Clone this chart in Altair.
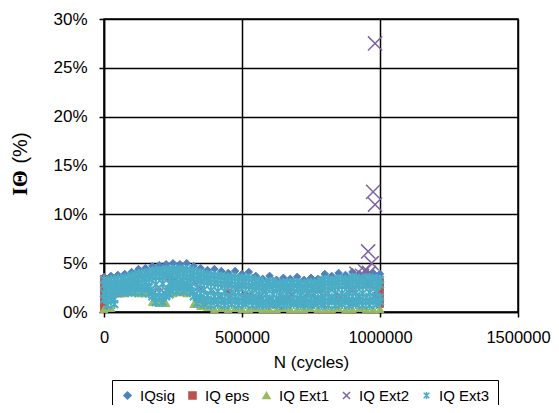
import altair as alt
import pandas as pd

SERIES = ["IQsig", "IQ eps", "IQ Ext1", "IQ Ext2", "IQ Ext3"]
COLORS = ["#4F81BD", "#C0504D", "#9BBB59", "#8064A2", "#4BACC6"]
FILLS = ["#4F81BD", "#C0504D", "#9BBB59", "transparent", "transparent"]
X_PATH = "M-1,-1L1,1M-1,1L1,-1"
AST_PATH = "M-0.8,-0.8L0.8,0.8M-0.8,0.8L0.8,-0.8M0,-1L0,1"
SHAPES = ["diamond", "square", "triangle-up", X_PATH, AST_PATH]
SIZES = [55, 45, 60, 200, 90]
STROKES = [1, 1, 1, 1.5, 2]

xs_a = [0, 25000, 50000, 75000, 100000, 125000, 150000, 175000, 200000, 225000,
        250000, 275000, 300000, 325000, 350000, 375000, 400000, 425000, 450000, 475000,
        500000, 525000, 550000, 575000, 600000, 625000, 650000, 675000, 700000, 725000,
        750000, 775000, 800000, 825000, 850000, 875000, 900000, 925000, 950000, 975000,
        1000000]
xs_b = [12500, 37500, 62500, 87500, 112500, 137500, 162500, 187500, 212500, 237500,
        262500, 287500, 312500, 337500, 362500, 387500, 412500, 437500, 462500, 487500,
        512500, 537500, 562500, 587500, 612500, 637500, 662500, 687500, 712500, 737500,
        762500, 787500, 812500, 837500, 862500, 887500, 912500, 937500, 962500, 987500]

sig_y = [3.6, 3.7, 3.8, 3.9, 4.1, 4.4, 4.5, 4.7, 4.8, 4.9,
         5.0, 4.9, 5.0, 4.7, 4.5, 4.3, 4.4, 4.2, 4.0, 4.2,
         3.9, 4.1, 3.7, 3.4, 3.7, 3.3, 3.5, 3.4, 3.6, 3.3,
         3.5, 3.4, 3.9, 3.7, 4.0, 3.8, 4.1, 3.9, 4.1, 4.0,
         3.9]

eps_x = [0, 0, 0, 0, 0, 0, 0,
         1000000, 1000000, 1000000, 1000000, 1000000,
         60000, 75000, 210000, 240000, 340000, 360000, 450000, 520000, 560000,
         620000, 660000, 720000, 780000, 850000, 905000, 960000, 990000]
eps_y = [0.4, 0.9, 1.4, 1.9, 2.4, 2.9, 3.4,
         0.8, 1.4, 2.0, 2.6, 3.1,
         1.9, 2.2, 1.0, 3.6, 1.3, 0.9, 2.0, 1.6, 1.2,
         0.8, 1.4, 0.9, 2.3, 1.5, 1.0, 2.8, 1.7]

ext1_y = [0.3, 0.4, 1.9, 1.9, 2.0, 1.9, 1.9, 1.0, 0.9, 0.9,
          1.9, 2.0, 1.9, 0.8, 0.6, 0.5,
          0.3, 0.4, 0.3, 0.4, 0.3, 0.3, 0.4, 0.3, 0.3, 0.3,
          0.4, 0.3, 0.3, 0.3, 0.4, 0.3, 0.3, 0.3, 0.4, 0.3,
          0.3, 0.4, 0.3, 0.3, 0.3]

ext2_x = [30000, 120000, 200000, 250000, 300000, 350000, 420000, 480000, 530000, 580000,
          620000, 660000, 700000, 740000, 780000, 820000, 860000, 900000, 915000, 935000,
          945000, 960000, 957000, 970000, 975000, 982000, 982000]
ext2_y = [2.3, 2.8, 2.5, 3.2, 2.4, 2.4, 1.5, 2.2, 1.3, 2.0,
          1.0, 2.3, 1.4, 2.0, 1.1, 2.4, 1.5, 2.2, 3.9, 3.7,
          4.2, 4.0, 6.2, 5.0, 12.3, 11.0, 27.5]

ext3_r1 = [3.2, 3.3, 3.4, 3.5, 3.8, 4.0, 4.1, 4.3, 4.3, 4.4,
           4.4, 4.4, 4.3, 4.1, 3.9, 3.8, 3.7, 3.6, 3.6, 3.5,
           3.5, 3.4, 3.2, 3.0, 3.1, 2.9, 3.0, 3.0, 2.9, 3.0,
           2.9, 3.2, 3.3, 3.3, 3.4, 3.4, 3.5, 3.4, 3.5, 3.4]
ext3_r2 = [2.8, 2.7, 2.8, 2.9, 3.1, 3.3, 3.4, 3.6, 3.6, 3.7,
           3.7, 3.6, 3.6, 3.4, 3.2, 3.1, 3.0, 2.9, 2.9, 2.8,
           2.8, 2.7, 2.6, 2.5, 2.6, 2.4, 2.5, 2.5, 2.4, 2.5,
           2.4, 2.5, 2.6, 2.6, 2.7, 2.7, 2.8, 2.7, 2.8, 2.7,
           2.8]
ext3_r3 = [2.0, 2.0, 2.1, 2.2, 2.5, 2.6, 2.7, 2.8, 2.9, 2.9,
           2.9, 2.8, 2.7, 2.5, 2.3, 2.2, 2.1, 2.1, 2.0, 2.0,
           1.9, 1.9, 1.8, 1.8, 1.8, 1.7, 1.8, 1.8, 1.7, 1.8,
           1.8, 1.8, 1.9, 1.9, 1.9, 2.0, 2.0, 1.9, 2.0, 2.0]
ext3_r4 = [1.3, 1.2, 2.3, 2.4, 2.4, 2.4, 2.4, 1.6, 1.5, 1.6,
           2.5, 2.5, 2.4, 1.6, 1.4, 1.2,
           1.1, 1.2, 1.1, 1.2, 1.1, 1.2, 1.1, 1.0, 1.1, 1.0,
           1.1, 1.1, 1.0, 1.1, 1.0, 1.1, 1.1, 1.2, 1.1, 1.2,
           1.1, 1.2, 1.1, 1.2, 1.1]
ext3_r5 = [0.7, 0.8, 2.0, 2.0, 2.0, 2.0, 1.9, 1.0, 1.0, 1.8,
           2.1, 2.1, 2.0, 0.9, 0.8,
           0.7, 0.8, 0.7, 0.8, 0.7, 0.8, 0.7, 0.7, 0.7, 0.8,
           0.7, 0.7, 0.8, 0.7, 0.7, 0.8, 0.7, 0.7, 0.7, 0.8,
           0.7, 0.8, 0.7, 0.7, 0.8]
ext3_r6 = [1.9, 1.8, 2.6, 2.7, 2.8, 2.9, 3.0, 2.1, 2.0, 2.2,
           3.0, 3.0, 2.9, 2.1, 1.9, 1.7,
           1.6, 1.6, 1.5, 1.6, 1.5, 1.5, 1.5, 1.4, 1.4, 1.4,
           1.4, 1.4, 1.4, 1.4, 1.4, 1.4, 1.5, 1.5, 1.5, 1.5,
           1.6, 1.6, 1.5, 1.6, 1.5]
ext3_r7 = [2.6, 2.6, 2.7, 2.8, 3.1, 3.3, 3.4, 3.6, 3.6, 3.7,
           3.7, 3.6, 3.5, 3.3, 3.1, 3.0, 2.9, 2.8, 2.8, 2.7,
           2.7, 2.6, 2.5, 2.4, 2.4, 2.3, 2.4, 2.4, 2.3, 2.4,
           2.3, 2.5, 2.6, 2.6, 2.7, 2.7, 2.8, 2.7, 2.8, 2.7]
ext3_r8 = [1.2, 1.3, 2.5, 2.5, 2.6, 2.6, 2.5, 1.5, 1.5, 2.3,
           2.6, 2.6, 2.5, 1.5, 1.3,
           1.2, 1.2, 1.1, 1.2, 1.1, 1.1, 1.1, 1.0, 1.0, 1.0,
           1.0, 1.0, 1.0, 1.0, 1.0, 1.0, 1.0, 1.1, 1.1, 1.1,
           1.1, 1.1, 1.1, 1.1, 1.1]
ext3_r9 = [3.3, 3.3, 3.4, 3.5, 3.7, 3.9, 4.0, 4.1, 4.2, 4.3,
           4.3, 4.3, 4.3, 4.1, 3.9, 3.8, 3.7, 3.6, 3.5, 3.5,
           3.4, 3.4, 3.2, 3.0, 3.1, 2.9, 3.0, 3.0, 3.0, 2.9,
           3.0, 3.0, 3.3, 3.2, 3.4, 3.3, 3.5, 3.4, 3.5, 3.4,
           3.3]

x_ticks = [0, 500000, 1000000, 1500000]
y_ticks = [0, 5, 10, 15, 20, 25, 30]

rows = []


def add(series, xs, ys):
    for xv, yv in zip(xs, ys):
        rows.append({"series": series, "x": xv, "y": yv})


add("IQsig", xs_a, sig_y)
add("IQ eps", eps_x, eps_y)
add("IQ Ext1", xs_a, ext1_y)
add("IQ Ext2", ext2_x, ext2_y)
add("IQ Ext3", xs_b, ext3_r1)
add("IQ Ext3", xs_a, ext3_r9)
add("IQ Ext3", xs_a, ext3_r2)
add("IQ Ext3", xs_b, ext3_r7)
add("IQ Ext3", xs_b, ext3_r3)
add("IQ Ext3", xs_a, ext3_r6)
add("IQ Ext3", xs_a, ext3_r4)
add("IQ Ext3", xs_b, ext3_r8)
add("IQ Ext3", xs_b, ext3_r5)
df = pd.DataFrame(rows)

enc = dict(
    x=alt.X("x:Q", scale=alt.Scale(domain=[0, 1500000], nice=False, zero=False),
            axis=alt.Axis(values=x_ticks, format="d", title="N (cycles)",
                          labelFontSize=16.5, titleFontSize=17,
                          labelFlush=False, labelOverlap=False, titlePadding=9)),
    y=alt.Y("y:Q", scale=alt.Scale(domain=[0, 30], nice=False),
            axis=alt.Axis(values=y_ticks, labelExpr="datum.value + '%'",
                          labelFlush=False, labelOverlap=False), title=None),
    color=alt.Color("series:N", scale=alt.Scale(domain=SERIES, range=COLORS), title=None),
    fill=alt.Fill("series:N", scale=alt.Scale(domain=SERIES, range=FILLS), title=None),
    shape=alt.Shape("series:N", scale=alt.Scale(domain=SERIES, range=SHAPES), title=None),
)

layers = []
for i, s in enumerate(SERIES):
    layers.append(
        alt.Chart(df).transform_filter(alt.datum.series == s)
        .mark_point(size=SIZES[i], filled=False, opacity=1, strokeWidth=STROKES[i])
        .encode(**enc)
    )

t1 = alt.Chart(pd.DataFrame({"t": ["IΘ"]})).mark_text(
    angle=270, font="Liberation Serif", fontSize=22, fontWeight="bold",
    align="center", baseline="alphabetic", color="black"
).encode(text="t:N", x=alt.value(-77), y=alt.value(164))
t2 = alt.Chart(pd.DataFrame({"t": ["(%)"]})).mark_text(
    angle=270, font="Liberation Sans", fontSize=20,
    align="center", baseline="alphabetic", color="black"
).encode(text="t:N", x=alt.value(-77), y=alt.value(129))

chart = alt.layer(*layers, t1, t2).properties(
    width=414, height=293,
    autosize=alt.AutoSizeParams(type="none"),
    padding={"left": 96, "top": 11, "right": 33, "bottom": 93},
).configure_axis(
    labelFont="Liberation Sans", labelFontSize=17, labelColor="black",
    titleFont="Liberation Sans", titleFontSize=17, titleFontWeight="normal", titleColor="black",
    domainColor="black", domainWidth=1.5, tickColor="black", tickWidth=1.5, tickSize=5,
    gridColor="black", gridWidth=1.5, gridOpacity=1, labelPadding=12,
).configure_legend(
    orient="none", legendX=8, legendY=361, direction="horizontal", columns=5,
    gridAlign="none",
    strokeColor="black", fillColor="white", padding=8,
    labelFont="Liberation Sans", labelFontSize=15, labelColor="black",
    symbolSize=50, symbolStrokeWidth=1.5, columnPadding=9, labelOffset=5,
).configure_view(stroke="black", strokeWidth=1.5)

chart.save("out.html", embed_options={"renderer": "svg", "actions": False})
